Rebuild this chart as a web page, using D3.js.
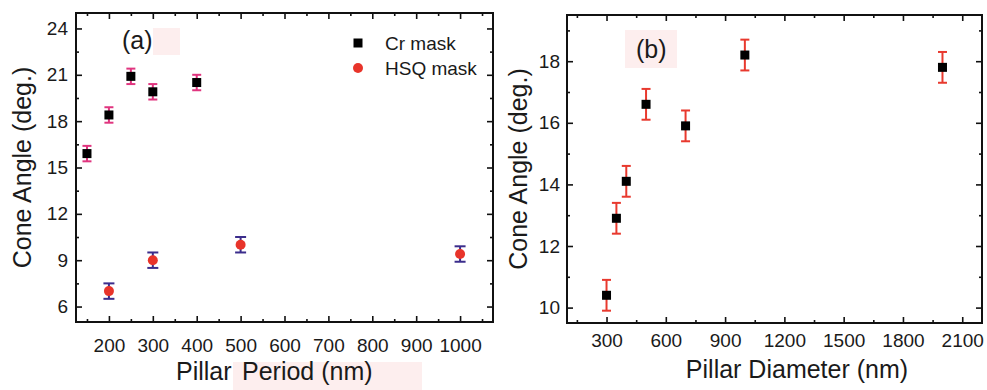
<!DOCTYPE html>
<html>
<head>
<meta charset="utf-8">
<script src="https://cdn.jsdelivr.net/npm/d3@7"></script>
<style>
	body { margin: 0; background: #fff; }
	svg { display: block; font-family: "Liberation Sans", Arial, sans-serif; }
	.tick text { font-size: 19px; fill: #1a1a1a; }
	.tick line { stroke: #111; stroke-width: 1.6; }
</style>
</head>
<body>
<svg id="svg"></svg>
<script>

// ---- data ---- //

// (a) cone angle vs pillar period
const periodCr = [150, 200, 250, 300, 400];
const angleCr = [15.9, 18.4, 20.9, 19.9, 20.5];
const errCr = [0.5, 0.5, 0.5, 0.5, 0.5];

const periodHsq = [200, 300, 500, 1000];
const angleHsq = [7.0, 9.0, 10.0, 9.4];
const errHsq = [0.5, 0.5, 0.5, 0.5];

// (b) cone angle vs pillar diameter
const diameter = [300, 350, 400, 500, 700, 1000, 2000];
const angleDia = [10.4, 12.9, 14.1, 16.6, 15.9, 18.2, 17.8];
const errDia = [0.5, 0.5, 0.5, 0.5, 0.5, 0.5, 0.5];

// tick labels
const xTicksA = [200, 300, 400, 500, 600, 700, 800, 900, 1000];
const yTicksA = [6, 9, 12, 15, 18, 21, 24];
const xTicksB = [300, 600, 900, 1200, 1500, 1800, 2100];
const yTicksB = [10, 12, 14, 16, 18];

const legendNames = ["Cr mask", "HSQ mask"];

// ---- layout ---- //

let width = 987,
	height = 390;

const svg = d3.select("svg#svg")
	.attr("width", width)
	.attr("height", height);

// light pink highlight boxes that sit behind some labels in the original
const pink = "#fdeeee";
svg.append("rect").attr("x", 153).attr("y", 28).attr("width", 27).attr("height", 27).attr("fill", pink);
svg.append("rect").attr("x", 233).attr("y", 362).attr("width", 189).attr("height", 28).attr("fill", pink);
svg.append("rect").attr("x", 625).attr("y", 30).attr("width", 52).attr("height", 38).attr("fill", pink);

const fmt = d3.format("d");

function panel(o) {

	const x = d3.scaleLinear().domain(o.xDomain).range([o.left, o.right]);
	const y = d3.scaleLinear().domain(o.yDomain).range([o.bottom, o.top]);

	const g = svg.append("g");

	// minor ticks
	const xMinor = d3.range(o.xMinorStart, o.xDomain[1], o.xMajor).filter(v => v > o.xDomain[0]);
	const yMinor = d3.range(o.yMinorStart, o.yDomain[1], o.yMajor).filter(v => v > o.yDomain[0]);

	const axes = [
		[d3.axisBottom(x).tickValues(o.xTicks).tickFormat(fmt).tickSize(-6).tickPadding(o.xPad), `translate(0,${o.bottom})`],
		[d3.axisBottom(x).tickValues(xMinor).tickSize(-3).tickFormat(""), `translate(0,${o.bottom})`],
		[d3.axisTop(x).tickValues(o.xTicks).tickSize(-6).tickFormat(""), `translate(0,${o.top})`],
		[d3.axisTop(x).tickValues(xMinor).tickSize(-3).tickFormat(""), `translate(0,${o.top})`],
		[d3.axisLeft(y).tickValues(o.yTicks).tickFormat(fmt).tickSize(-6).tickPadding(o.yPad), `translate(${o.left},0)`],
		[d3.axisLeft(y).tickValues(yMinor).tickSize(-3).tickFormat(""), `translate(${o.left},0)`],
		[d3.axisRight(y).tickValues(o.yTicks).tickSize(-6).tickFormat(""), `translate(${o.right},0)`],
		[d3.axisRight(y).tickValues(yMinor).tickSize(-3).tickFormat(""), `translate(${o.right},0)`]
	];

	axes.forEach(([ax, tr]) => {
		const a = g.append("g")
			.attr("transform", tr)
			.call(ax.tickSizeOuter(0));
		a.select(".domain").remove();
		a.selectAll("text").attr("font-family", null).attr("font-size", null);
	});

	// frame
	g.append("rect")
		.attr("x", o.left)
		.attr("y", o.top)
		.attr("width", o.right - o.left)
		.attr("height", o.bottom - o.top)
		.attr("fill", "none")
		.attr("stroke", "#111")
		.attr("stroke-width", 2);

	// axis title
	g.append("text")
		.text("Cone Angle (deg.)")
		.attr("text-anchor", "middle")
		.attr("font-size", 25)
		.attr("fill", "#1a1a1a")
		.attr("transform", `translate(${o.yTitleX},${(o.top + o.bottom) / 2}) rotate(-90)`);

	return { g, x, y };
}

function errorBars(g, x, y, xs, ys, es, color, cap) {
	const data = xs.map((v, i) => ({ x: v, y: ys[i], e: es[i] }));
	const eb = g.append("g")
		.attr("stroke", color)
		.attr("stroke-width", 2)
		.selectAll("g")
		.data(data)
		.enter()
		.append("g");
	eb.append("line")
		.attr("x1", d => x(d.x)).attr("x2", d => x(d.x))
		.attr("y1", d => y(d.y - d.e)).attr("y2", d => y(d.y + d.e));
	eb.append("line")
		.attr("x1", d => x(d.x) - cap).attr("x2", d => x(d.x) + cap)
		.attr("y1", d => y(d.y + d.e)).attr("y2", d => y(d.y + d.e));
	eb.append("line")
		.attr("x1", d => x(d.x) - cap).attr("x2", d => x(d.x) + cap)
		.attr("y1", d => y(d.y - d.e)).attr("y2", d => y(d.y - d.e));
	return data;
}

function squares(g, x, y, data, s) {
	g.selectAll(null)
		.data(data)
		.enter()
		.append("rect")
		.attr("x", d => x(d.x) - s / 2)
		.attr("y", d => y(d.y) - s / 2)
		.attr("width", s)
		.attr("height", s)
		.attr("fill", "#000");
}

// ---- panel (a) ---- //

const A = panel({
	left: 76, right: 493, top: 13, bottom: 322,
	xDomain: [125, 1075], yDomain: [5, 25],
	xTicks: xTicksA, yTicks: yTicksA,
	xMajor: 100, xMinorStart: 150,
	yMajor: 3, yMinorStart: 7.5,
	xPad: 17, yPad: 8,
	yTitleX: 31
});

const dCr = errorBars(A.g, A.x, A.y, periodCr, angleCr, errCr, "#e0357f", 4.5);
squares(A.g, A.x, A.y, dCr, 9);

const dHsq = errorBars(A.g, A.x, A.y, periodHsq, angleHsq, errHsq, "#3b2d8c", 5.5);
A.g.selectAll(null)
	.data(dHsq)
	.enter()
	.append("circle")
	.attr("cx", d => A.x(d.x))
	.attr("cy", d => A.y(d.y))
	.attr("r", 5)
	.attr("fill", "#e8342a");

// legend
A.g.append("rect").attr("x", 353.5).attr("y", 38.5).attr("width", 9).attr("height", 9).attr("fill", "#000");
A.g.append("circle").attr("cx", 358).attr("cy", 68).attr("r", 5).attr("fill", "#e8342a");
A.g.selectAll(null)
	.data(legendNames)
	.enter()
	.append("text")
	.text(d => d)
	.attr("x", 385)
	.attr("y", (d, i) => 50 + i * 25)
	.attr("font-size", 19)
	.attr("fill", "#1a1a1a");

A.g.append("text").text("(a)")
	.attr("x", 122).attr("y", 49)
	.attr("font-size", 25).attr("fill", "#1a1a1a");

A.g.append("text").text("Pillar")
	.attr("x", 176).attr("y", 380)
	.attr("font-size", 25).attr("fill", "#1a1a1a");
A.g.append("text").text("Period (nm)")
	.attr("x", 242).attr("y", 380)
	.attr("font-size", 25).attr("fill", "#1a1a1a");

// ---- panel (b) ---- //

const B = panel({
	left: 567, right: 982, top: 15, bottom: 323,
	xDomain: [100, 2200], yDomain: [9.5, 19.5],
	xTicks: xTicksB, yTicks: yTicksB,
	xMajor: 300, xMinorStart: 150,
	yMajor: 2, yMinorStart: 11,
	xPad: 11, yPad: 7,
	yTitleX: 527
});

const dDia = errorBars(B.g, B.x, B.y, diameter, angleDia, errDia, "#e8392e", 4.5);
squares(B.g, B.x, B.y, dDia, 9);

B.g.append("text").text("(b)")
	.attr("x", 636).attr("y", 58)
	.attr("font-size", 25).attr("fill", "#1a1a1a");

B.g.append("text").text("Pillar Diameter (nm)")
	.attr("x", 797).attr("y", 378)
	.attr("text-anchor", "middle")
	.attr("font-size", 25).attr("fill", "#1a1a1a");

</script>
</body>
</html>
